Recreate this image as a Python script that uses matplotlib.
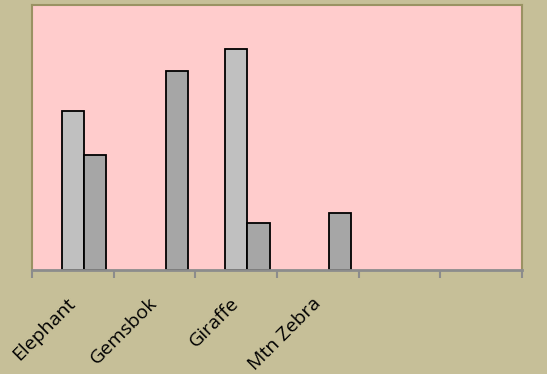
import matplotlib.pyplot as plt
import numpy as np

# animal counts, two series; the last two categories are empty
animals = ['Elephant', 'Gemsbok', 'Giraffe', 'Mtn Zebra', '', '']
series_a = [36, 0, 50, 0, 0, 0]
series_b = [26, 45, 10.6, 13, 0, 0]
y_max = 60

bg = '#C6BF98'
plot_bg = '#FFCCCC'
border = '#9A9263'
axis_grey = '#8C8C8C'

fig = plt.figure(figsize=(5.47, 3.74), dpi=100, facecolor=bg)
ax = fig.add_axes([32 / 547, 104 / 374, 490 / 547, 265 / 374])
ax.set_facecolor(plot_bg)

n = len(animals)
x = np.arange(n) + 0.5
w = 0.274   # three bar slots per category, first slot unused

for vals, off, col in [(series_a, 0.0, '#C0C0C0'), (series_b, w, '#A6A6A6')]:
    for xi, v in zip(x, vals):
        if v > 0:
            ax.bar(xi + off, v, width=w, color=col, edgecolor='black',
                   linewidth=1.3, zorder=3)

ax.set_xlim(0, n)
ax.set_ylim(0, y_max)

# ticks on category boundaries, labels at category centres
ax.set_xticks(np.arange(n + 1))
ax.set_xticklabels([])
ax.set_xticks(x, minor=True)
ax.set_xticklabels(animals, minor=True, rotation=45, ha='right',
                   va='center', rotation_mode='anchor',
                   fontsize=14, family='Open Sans')
ax.tick_params(axis='x', which='major', direction='out', length=6,
               width=1.5, color=axis_grey)
ax.tick_params(axis='x', which='minor', length=0, pad=22)
ax.set_yticks([])

for side in ['left', 'top', 'right']:
    ax.spines[side].set_color(border)
    ax.spines[side].set_linewidth(1.5)
ax.spines['bottom'].set_color(axis_grey)
ax.spines['bottom'].set_linewidth(2)
ax.spines['bottom'].set_zorder(4)

fig.savefig('out.png', dpi=100, facecolor=bg)
